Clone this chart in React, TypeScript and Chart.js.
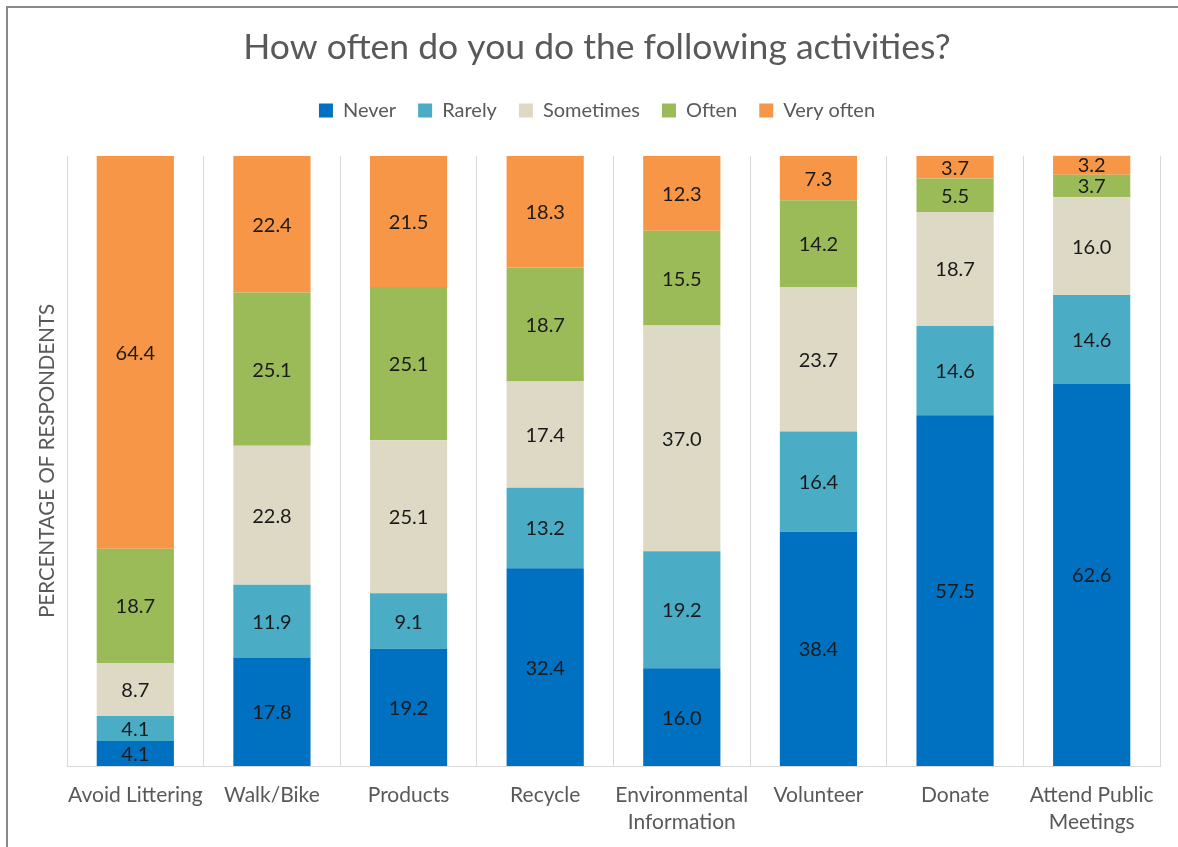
import React, { useEffect, useRef } from "react";
import { Chart, registerables } from "chart.js";

Chart.register(...registerables);

const categories: (string | string[])[] = [
  "Avoid Littering",
  "Walk/Bike",
  "Products",
  "Recycle",
  ["Environmental", "Information"],
  "Volunteer",
  "Donate",
  ["Attend Public", "Meetings"],
];

const never = [4.1, 17.8, 19.2, 32.4, 16.0, 38.4, 57.5, 62.6];
const rarely = [4.1, 11.9, 9.1, 13.2, 19.2, 16.4, 14.6, 14.6];
const sometimes = [8.7, 22.8, 25.1, 17.4, 37.0, 23.7, 18.7, 16.0];
const often = [18.7, 25.1, 25.1, 18.7, 15.5, 14.2, 5.5, 3.7];
const veryOften = [64.4, 22.4, 21.5, 18.3, 12.3, 7.3, 3.7, 3.2];

const seriesNames = ["Never", "Rarely", "Sometimes", "Often", "Very often"];
const seriesColors = ["#0070C0", "#4BACC6", "#DDD9C4", "#9BBB59", "#F79646"];

const FONT = "Lato, 'Open Sans', sans-serif";
const GREY = "#595959";
const CANVAS_W = 1186;
const CANVAS_H = 847;

const framePlugin = {
  id: "frame",
  beforeDraw(chart: any) {
    const ctx = chart.ctx;
    ctx.save();
    ctx.fillStyle = "#ffffff";
    ctx.fillRect(0, 0, chart.width, chart.height);
    ctx.strokeStyle = "#898989";
    ctx.lineWidth = 2;
    ctx.strokeRect(7, 7, chart.width + 50, chart.height + 50);
    ctx.restore();
  },
};

const labelPlugin = {
  id: "segLabels",
  afterDatasetsDraw(chart: any) {
    const ctx = chart.ctx;
    ctx.save();
    ctx.font = `20px ${FONT}`;
    ctx.fillStyle = "#1a1a1a";
    ctx.textAlign = "center";
    ctx.textBaseline = "middle";
    chart.data.datasets.forEach((ds: any, di: number) => {
      const meta = chart.getDatasetMeta(di);
      meta.data.forEach((bar: any, i: number) => {
        const v = ds.data[i] as number;
        const cy = (bar.y + bar.base) / 2;
        ctx.fillText(v.toFixed(1), bar.x, cy + 1);
      });
    });
    ctx.restore();
  },
};

export default function App() {
  const ref = useRef<HTMLCanvasElement | null>(null);

  useEffect(() => {
    document.body.style.margin = "0";
    document.body.style.overflow = "hidden";
    document.documentElement.style.overflow = "hidden";
    if (!ref.current) return;
    const seriesData = [never, rarely, sometimes, often, veryOften];
    const chart = new Chart(ref.current, {
      type: "bar",
      data: {
        labels: categories,
        datasets: seriesData.map((d, i) => ({
          label: seriesNames[i],
          data: d,
          backgroundColor: seriesColors[i],
          borderWidth: 0,
          barPercentage: 0.565,
          categoryPercentage: 1,
        })),
      },
      options: {
        animation: false,
        responsive: false,
        maintainAspectRatio: false,
        layout: { padding: { left: 8, right: 0, top: 0, bottom: 0 } },
        plugins: {
          title: {
            display: true,
            text: "How often do you do the following activities?",
            color: GREY,
            font: { family: FONT, size: 35.5, weight: "normal" },
            padding: { top: 26, bottom: 10 },
          },
          subtitle: {
            display: true,
            text: "",
            position: "top",
            weight: 500,
            font: { size: 1 },
            padding: { top: 24, bottom: 0 },
          } as any,
          legend: {
            display: true,
            position: "top",
            labels: {
              color: GREY,
              font: { family: FONT, size: 20 },
              boxWidth: 14,
              boxHeight: 14,
              padding: 22,
            },
          },
          tooltip: { enabled: false },
        },
        scales: {
          x: {
            stacked: true,
            grid: {
              display: true,
              color: "#d9d9d9",
              lineWidth: 1,
              drawTicks: false,
              offset: true,
            },
            border: { display: true, color: "#d9d9d9", width: 1 },
            ticks: {
              color: GREY,
              font: { family: FONT, size: 21, lineHeight: 1.29 },
              padding: 16,
              maxRotation: 0,
              autoSkip: false,
            },
            afterFit(scale: any) {
              scale.height = 81;
            },
          },
          y: {
            stacked: true,
            min: 0,
            max: 100,
            grid: { display: false, drawTicks: false },
            border: { display: false },
            ticks: { display: false },
            title: {
              display: true,
              text: "PERCENTAGE OF RESPONDENTS",
              color: GREY,
              font: { family: FONT, size: 20.5 },
              padding: { top: 27, bottom: 0 },
            },
            afterFit(scale: any) {
              scale.width = 59;
            },
          },
          yRight: {
            position: "right",
            display: true,
            grid: { display: false, drawTicks: false },
            border: { display: false },
            ticks: { display: false },
            afterFit(scale: any) {
              scale.width = CANVAS_W - 1160;
            },
          },
        },
      },
      plugins: [framePlugin, labelPlugin],
    });
    return () => chart.destroy();
  }, []);

  return (
    <div style={{ width: CANVAS_W, height: CANVAS_H, overflow: "hidden" }}>
      <canvas ref={ref} width={CANVAS_W} height={CANVAS_H} style={{ display: "block" }} />
    </div>
  );
}
